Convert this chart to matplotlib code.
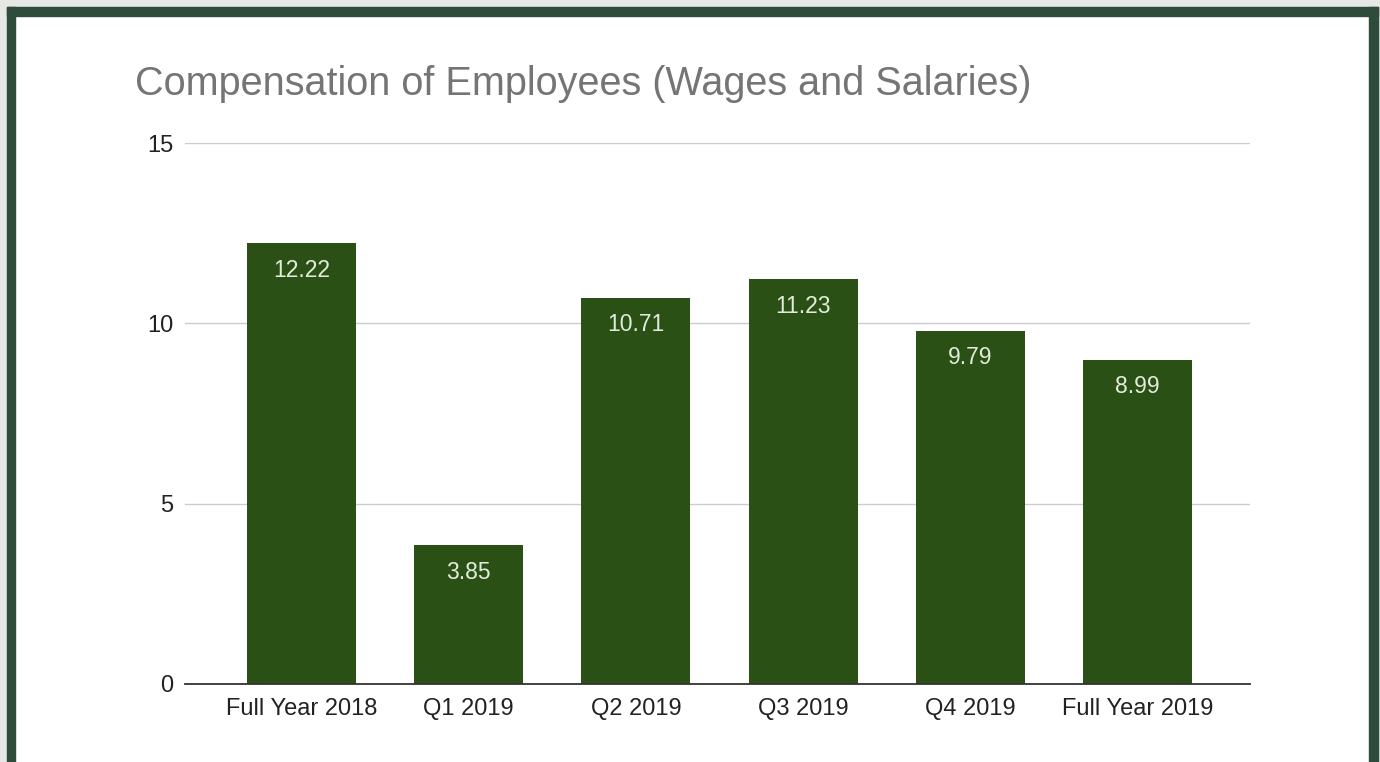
import matplotlib.pyplot as plt
from matplotlib.patches import Rectangle

categories = ["Full Year 2018", "Q1 2019", "Q2 2019", "Q3 2019", "Q4 2019", "Full Year 2019"]
values = [12.22, 3.85, 10.71, 11.23, 9.79, 8.99]
yticks = [0, 5, 10, 15]

plt.rcParams["font.family"] = ["Liberation Sans", "DejaVu Sans"]

fig = plt.figure(figsize=(13.8, 7.62), dpi=100)
fig.patch.set_facecolor("white")

# frame around the slide: light grey margin, dark green border (no bottom edge)
W, H = 1380, 762
def px_rect(x0, y0, x1, y1, color):
    fig.patches.append(Rectangle((x0 / W, 1 - y1 / H), (x1 - x0) / W, (y1 - y0) / H,
                                 transform=fig.transFigure, color=color, zorder=0))

grey = "#e6e8e6"
green = "#2e4b3b"
px_rect(0, 0, W, 7, grey)
px_rect(0, 0, 7, H, grey)
px_rect(1378, 0, W, H, grey)
px_rect(7, 7, 1378, 16, green)
px_rect(7, 7, 15, H, green)
px_rect(1369, 7, 1378, H, green)

ax = fig.add_axes([185 / W, 1 - 684 / H, (1250 - 185) / W, (684 - 143) / H])
ax.set_facecolor("none")

x = range(len(categories))
bars = ax.bar(x, values, width=0.652, color="#2a5016", zorder=3)

for xi, v in zip(x, values):
    ax.annotate(f"{v:.2f}", (xi, v), xytext=(0, -19.5), textcoords="offset points",
                ha="center", va="center", color="#e2ecda", fontsize=16.5, zorder=4)

ax.set_xlim(-0.697, 5.673)
ax.set_ylim(0, 15)
ax.set_yticks(yticks)
ax.set_xticks(list(x))
ax.set_xticklabels(categories)
ax.tick_params(axis="both", length=0, labelsize=17, labelcolor="#222222")
ax.tick_params(axis="x", pad=10)
ax.tick_params(axis="y", pad=8.6)

ax.grid(axis="y", color="#cccccc", linewidth=1, zorder=0)
for side in ["top", "right", "left"]:
    ax.spines[side].set_visible(False)
ax.spines["bottom"].set_color("#333333")
ax.spines["bottom"].set_linewidth(1.3)
ax.spines["bottom"].set_zorder(5)

fig.text(135 / W, 1 - 84 / H, "Compensation of Employees (Wages and Salaries)",
         fontsize=28.5, color="#757575", ha="left", va="center")

fig.savefig("out.png", dpi=100)
